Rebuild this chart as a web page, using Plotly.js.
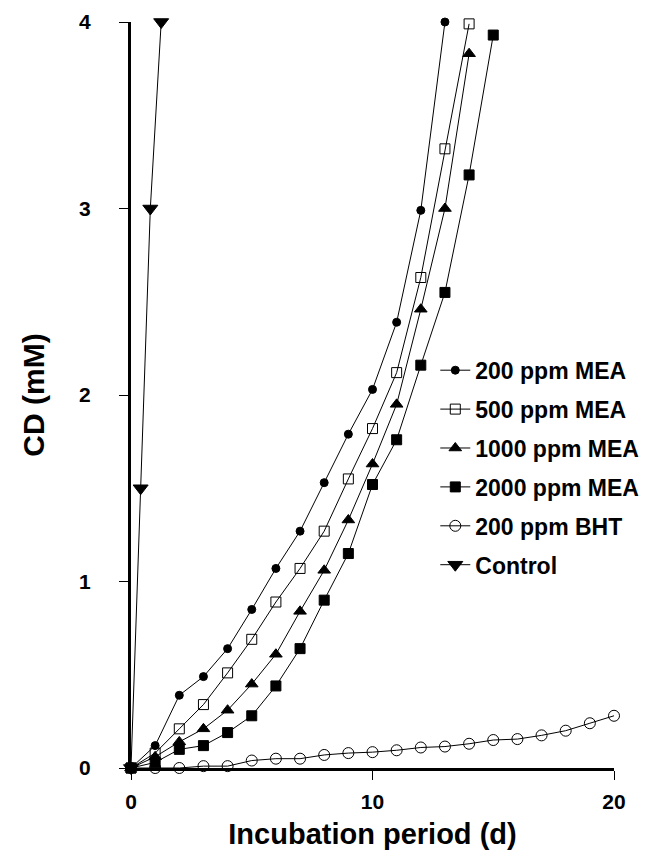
<!DOCTYPE html>
<html>
<head>
<meta charset="utf-8">
<script src="https://cdn.plot.ly/plotly-3.0.1.min.js"></script>
<style>html,body{margin:0;padding:0;background:#fff;}#chart{width:656px;height:867px;}</style>
</head>
<body>
<div id="chart"></div>
<script>
// Data
const seriesNames = ["200 ppm MEA", "500 ppm MEA", "1000 ppm MEA", "2000 ppm MEA", "200 ppm BHT", "Control"];

const daysMEA200 = [0,1,2,3,4,5,6,7,8,9,10,11,12,13];
const cdMEA200   = [0,0.12,0.39,0.49,0.64,0.85,1.07,1.27,1.53,1.79,2.03,2.39,2.99,4.0];

const daysMEA500 = [0,1,2,3,4,5,6,7,8,9,10,11,12,13,14];
const cdMEA500   = [0,0.08,0.21,0.34,0.51,0.69,0.89,1.07,1.27,1.55,1.82,2.12,2.63,3.32,3.99];

const daysMEA1000 = [0,1,2,3,4,5,6,7,8,9,10,11,12,13,14];
const cdMEA1000   = [0,0.06,0.14,0.21,0.31,0.45,0.61,0.84,1.06,1.33,1.63,1.95,2.46,3.0,3.83];

const daysMEA2000 = [0,1,2,3,4,5,6,7,8,9,10,11,12,13,14,15];
const cdMEA2000   = [0,0.03,0.10,0.12,0.19,0.28,0.44,0.64,0.90,1.15,1.52,1.76,2.16,2.55,3.18,3.93];

const daysBHT = [0,1,2,3,4,5,6,7,8,9,10,11,12,13,14,15,16,17,18,19,20];
const cdBHT   = [0,0,0,0.01,0.01,0.04,0.05,0.05,0.07,0.08,0.085,0.095,0.11,0.115,0.13,0.15,0.155,0.175,0.2,0.24,0.28];

const daysControl = [0,0.4,0.8,1.25];
const cdControl   = [0,1.5,3,4];

const xTicks = [0,10,20];
const yTicks = [0,1,2,3,4];

const FONT = "Liberation Sans, Arial, sans-serif";

function tr(name, x, y, symbol, size, grp) {
  return {
    type: "scatter", mode: "lines+markers", name: name, x: x, y: y,
    legendgroup: grp, cliponaxis: false,
    line: {color: "#000", width: 1},
    marker: {symbol: symbol, size: size, color: "#000", line: {color: "#000", width: 1}}
  };
}

const data = [
  tr(seriesNames[0], daysMEA200, cdMEA200, "circle", 8, "a"),
  tr(seriesNames[1], daysMEA500, cdMEA500, "square-open", 10, "b"),
  tr(seriesNames[2], daysMEA1000, cdMEA1000, "triangle-up", 11, "c"),
  tr(seriesNames[3], daysMEA2000, cdMEA2000, "square", 10, "d"),
  tr(seriesNames[4], daysBHT, cdBHT, "circle-open", 11, "e"),
  tr(seriesNames[5], daysControl, cdControl, "triangle-down", 13, "f")
];

const layout = {
  width: 656, height: 867,
  margin: {l: 131, r: 35, t: 22, b: 99},
  paper_bgcolor: "#fff", plot_bgcolor: "#fff",
  showlegend: true,
  legend: {
    x: 0.63, y: 0.562, xanchor: "left", yanchor: "top",
    bgcolor: "rgba(0,0,0,0)", borderwidth: 0,
    font: {family: FONT, size: 23, color: "#000", weight: "bold"},
    traceorder: "grouped", tracegroupgap: 6, itemwidth: 30
  },
  xaxis: {
    range: [0, 20], tickvals: xTicks, ticktext: xTicks.map(String),
    showgrid: false, zeroline: false,
    showline: true, linecolor: "#000", linewidth: 3,
    ticks: "outside", ticklen: 9, tickwidth: 1, tickcolor: "#000",
    ticklabelstandoff: 4,
    tickfont: {family: FONT, size: 21, color: "#000", weight: "bold"},
    title: {text: "Incubation period (d)", standoff: 12,
            font: {family: FONT, size: 29, color: "#000", weight: "bold"}}
  },
  yaxis: {
    range: [0, 4], tickvals: yTicks, ticktext: yTicks.map(String),
    showgrid: false, zeroline: false,
    showline: true, linecolor: "#000", linewidth: 3,
    ticks: "outside", ticklen: 9, tickwidth: 1, tickcolor: "#000",
    ticklabelstandoff: 24,
    tickfont: {family: FONT, size: 21, color: "#000", weight: "bold"},
    title: {text: "CD (mM)", standoff: 26,
            font: {family: FONT, size: 30, color: "#000", weight: "bold"}}
  }
};

Plotly.newPlot("chart", data, layout, {displayModeBar: false, staticPlot: true});
</script>
</body>
</html>
